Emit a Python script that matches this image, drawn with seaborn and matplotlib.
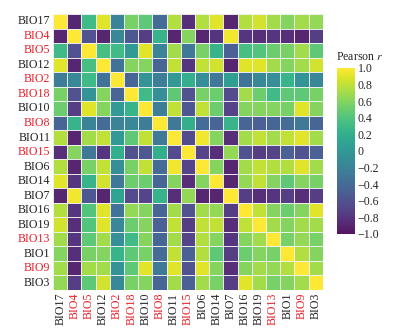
import numpy as np
import pandas as pd
import matplotlib
matplotlib.use("Agg")
import matplotlib.pyplot as plt
import seaborn as sns
from matplotlib.ticker import FuncFormatter

labels = ["BIO17", "BIO4", "BIO5", "BIO12", "BIO2", "BIO18", "BIO10", "BIO8", "BIO11",
          "BIO15", "BIO6", "BIO14", "BIO7", "BIO16", "BIO19", "BIO13", "BIO1", "BIO9", "BIO3"]
red_labels = ["BIO4", "BIO5", "BIO2", "BIO18", "BIO8", "BIO15", "BIO13", "BIO9"]

r_BIO17 = [1.0, -0.9, 0.3, 0.9, -0.2, 0.55, 0.45, -0.4, 0.75, -0.85, 0.75, 0.9, -0.9, 0.75, 0.85, 0.7, 0.6, 0.7, 0.65]
r_BIO4 = [-0.9, 1.0, -0.6, -0.9, -0.15, -0.55, -0.75, 0.25, -0.9, 0.6, -0.9, -0.8, 0.95, -0.8, -0.85, -0.8, -0.85, -0.9, -0.75]
r_BIO5 = [0.3, -0.6, 1.0, 0.35, 0.3, 0.0, 0.9, -0.2, 0.7, -0.3, 0.55, 0.25, -0.5, 0.35, 0.4, 0.5, 0.55, 0.7, 0.45]
r_BIO12 = [0.9, -0.9, 0.35, 1.0, -0.35, 0.6, 0.6, -0.45, 0.8, -0.8, 0.8, 0.85, -0.9, 0.9, 0.9, 0.7, 0.6, 0.7, 0.85]
r_BIO2 = [-0.25, -0.15, 0.3, -0.35, 1.0, -0.45, -0.05, -0.25, 0.0, 0.2, -0.1, -0.3, 0.05, -0.35, -0.15, -0.1, 0.25, -0.05, -0.15]
r_BIO18 = [0.55, -0.6, -0.05, 0.6, -0.45, 1.0, 0.3, -0.1, 0.45, -0.6, 0.55, 0.5, -0.65, 0.7, 0.5, 0.3, 0.45, 0.45, 0.55]
r_BIO10 = [0.5, -0.75, 0.9, 0.6, 0.0, 0.25, 1.0, -0.25, 0.8, -0.55, 0.8, 0.5, -0.7, 0.6, 0.6, 0.6, 0.55, 0.9, 0.6]
r_BIO8 = [-0.45, 0.25, -0.2, -0.4, -0.2, -0.15, -0.25, 1.0, -0.3, 0.2, -0.4, -0.45, 0.25, -0.45, -0.5, -0.45, -0.4, -0.3, -0.45]
r_BIO11 = [0.75, -0.9, 0.7, 0.8, 0.0, 0.45, 0.8, -0.3, 1.0, -0.65, 0.95, 0.6, -0.85, 0.7, 0.8, 0.7, 0.8, 0.9, 0.7]
r_BIO15 = [-0.85, 0.6, -0.3, -0.8, 0.2, -0.6, -0.55, 0.2, -0.65, 1.0, -0.7, -0.85, 0.65, -0.6, -0.75, -0.7, -0.5, -0.6, -0.5]
r_BIO6 = [0.75, -0.9, 0.55, 0.8, -0.1, 0.55, 0.8, -0.4, 0.95, -0.7, 1.0, 0.6, -0.9, 0.7, 0.8, 0.75, 0.75, 0.9, 0.7]
r_BIO14 = [0.9, -0.8, 0.25, 0.85, -0.3, 0.5, 0.5, -0.45, 0.6, -0.85, 0.6, 1.0, -0.9, 0.65, 0.8, 0.6, 0.45, 0.6, 0.55]
r_BIO7 = [-0.9, 0.95, -0.55, -0.9, 0.1, -0.65, -0.7, 0.25, -0.85, 0.65, -0.9, -0.9, 1.0, -0.75, -0.85, -0.8, -0.75, -0.85, -0.75]
r_BIO16 = [0.75, -0.8, 0.4, 0.9, -0.35, 0.65, 0.6, -0.45, 0.7, -0.6, 0.7, 0.65, -0.75, 1.0, 0.8, 0.6, 0.5, 0.6, 0.9]
r_BIO19 = [0.85, -0.85, 0.4, 0.9, -0.15, 0.5, 0.6, -0.5, 0.8, -0.75, 0.8, 0.8, -0.85, 0.8, 1.0, 0.7, 0.6, 0.7, 0.7]
r_BIO13 = [0.7, -0.8, 0.45, 0.7, -0.1, 0.3, 0.6, -0.45, 0.7, -0.7, 0.75, 0.6, -0.8, 0.6, 0.7, 1.0, 0.55, 0.65, 0.55]
r_BIO1 = [0.6, -0.85, 0.55, 0.6, 0.25, 0.45, 0.55, -0.4, 0.8, -0.5, 0.75, 0.45, -0.75, 0.5, 0.6, 0.55, 1.0, 0.75, 0.6]
r_BIO9 = [0.7, -0.9, 0.7, 0.7, -0.05, 0.45, 0.9, -0.3, 0.9, -0.6, 0.9, 0.6, -0.85, 0.6, 0.7, 0.65, 0.75, 1.0, 0.7]
r_BIO3 = [0.65, -0.75, 0.45, 0.85, -0.15, 0.55, 0.6, -0.45, 0.7, -0.5, 0.7, 0.55, -0.75, 0.9, 0.7, 0.55, 0.6, 0.7, 1.0]

rows = [r_BIO17, r_BIO4, r_BIO5, r_BIO12, r_BIO2, r_BIO18, r_BIO10, r_BIO8, r_BIO11,
        r_BIO15, r_BIO6, r_BIO14, r_BIO7, r_BIO16, r_BIO19, r_BIO13, r_BIO1, r_BIO9, r_BIO3]
df = pd.DataFrame(rows, index=labels, columns=labels)

sns.set_theme(style="white")
plt.rcParams['font.family'] = ['Liberation Serif', 'DejaVu Serif']
plt.rcParams['mathtext.fontset'] = 'stix'

fig = plt.figure(figsize=(4.02, 3.36), dpi=100)
ax = fig.add_axes([0.132, 0.137, 0.671, 0.821])
cax = fig.add_axes([0.838, 0.304, 0.045, 0.494])

sns.heatmap(df, ax=ax, cbar_ax=cax, cmap="viridis", vmin=-1, vmax=1,
            linewidths=0.6, linecolor="#f4f4f4", square=False,
            xticklabels=labels, yticklabels=labels,
            cbar_kws={"ticks": np.arange(-1.0, 1.01, 0.2)}, alpha=0.92)

ax.tick_params(axis="both", length=0, pad=2, labelsize=8.6)
ax.tick_params(axis="x", labelrotation=90)
ax.tick_params(axis="y", labelrotation=0)
for t in ax.get_xticklabels() + ax.get_yticklabels():
    t.set_color("#e8202a" if t.get_text() in red_labels else "#222222")
ax.set_xlabel("")
ax.set_ylabel("")

def fmt(v, pos):
    if abs(v) < 1e-9:
        return "0"
    return f"{v:.1f}".replace("-", "\u2212")

cax.yaxis.set_major_formatter(FuncFormatter(fmt))
cax.tick_params(axis="y", direction="in", length=5, width=0.8, color="white",
                labelsize=8.6, pad=2)
for s in cax.spines.values():
    s.set_visible(False)
cax.set_title("Pearson $r$", fontsize=8.6, pad=6, loc="left", x=-0.05)

fig.savefig("out.png", dpi=100)
